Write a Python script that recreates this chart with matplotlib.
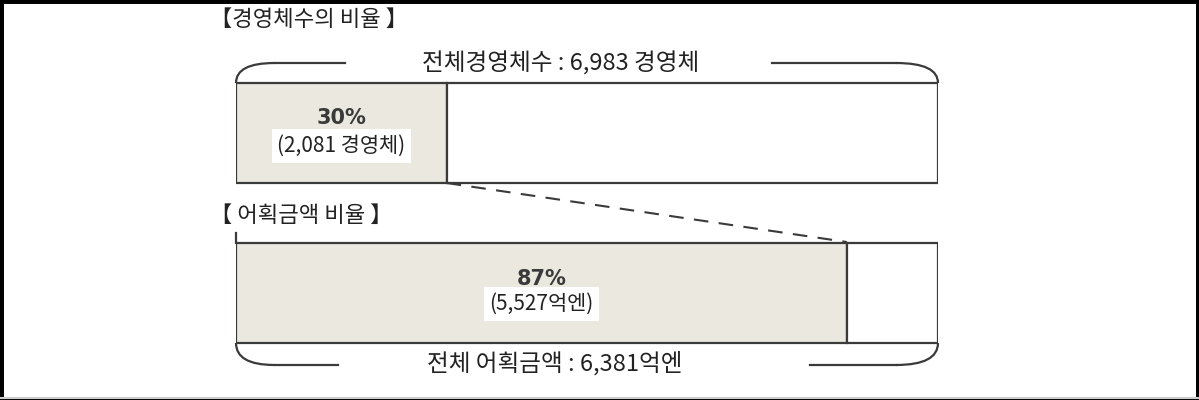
import matplotlib.pyplot as plt
from matplotlib.path import Path
from matplotlib.patches import PathPatch, Rectangle

plt.rcParams['font.family'] = ['Noto Sans CJK KR', 'DejaVu Sans']

# data
sections = ["【경영체수의 비율 】", "【 어획금액 비율 】"]
totals = ["전체경영체수 : 6,983 경영체", "전체 어획금액 : 6,381억엔"]
shares = [30, 87]
share_labels = ["30%", "87%"]
count_labels = ["(2,081 경영체)", "(5,527억엔)"]
bar_y = [133, 292.5]

ink = "#3a3a3a"
fill = "#ebe8df"

fig = plt.figure(figsize=(11.99, 4.0), dpi=100)
# axes spans the bar width: x in percent, y in pixel rows
ax = fig.add_axes([236 / 1199, 0, (938 - 236) / 1199, 1])
ax.set_xlim(0, 100)
ax.set_ylim(400, 0)
ax.axis("off")

for i in range(2):
    ax.barh(bar_y[i], shares[i], height=100, color=fill, edgecolor=ink, linewidth=1.6)
    ax.barh(bar_y[i], 100 - shares[i], left=shares[i], height=100, color="white",
            edgecolor=ink, linewidth=1.6)

# labels inside filled part
ax.text(shares[0] / 2, 118, share_labels[0], ha="center", va="center", fontsize=15,
        fontweight="bold", color=ink, family=["DejaVu Sans"])
ax.text(shares[0] / 2, 146, count_labels[0], ha="center", va="center", fontsize=15,
        color="#222222", bbox=dict(facecolor="white", edgecolor="none", pad=4))
ax.text(shares[1] / 2, 279, share_labels[1], ha="center", va="center", fontsize=15,
        fontweight="bold", color=ink, family=["DejaVu Sans"])
ax.text(shares[1] / 2, 304, count_labels[1], ha="center", va="center", fontsize=15,
        color="#222222", bbox=dict(facecolor="white", edgecolor="none", pad=4))

# section titles
ax.text(-3.7, 19, sections[0], ha="left", va="center", fontsize=16, color="#222222")
ax.text(-3.7, 215, sections[1], ha="left", va="center", fontsize=16, color="#222222")

# brackets with totals
def bracket(y_bar, y_line, x_text_l, x_text_r):
    for x0, x1 in [(0, 5.5), (100, 94.0)]:
        verts = [(x0, y_bar), (x0, y_line), (x1, y_line)]
        codes = [Path.MOVETO, Path.CURVE3, Path.CURVE3]
        ax.add_patch(PathPatch(Path(verts, codes), facecolor="none", edgecolor=ink,
                               linewidth=1.6, clip_on=False))
    ax.plot([5.5, x_text_l], [y_line, y_line], color=ink, lw=1.6, clip_on=False)
    ax.plot([x_text_r, 94.0], [y_line, y_line], color=ink, lw=1.6, clip_on=False)

bracket(83, 63, 15.5, 76.4)
ax.text(46.2, 64, totals[0], ha="center", va="center", fontsize=17, color="#222222")
bracket(343, 365, 14.5, 81.8)
ax.text(45.4, 364, totals[1], ha="center", va="center", fontsize=17, color="#222222")

# left edge of lower bar rises a little above it
ax.plot([0, 0], [233, 243], color=ink, lw=1.6, clip_on=False)

# dashed link from 30% to 87%
ax.plot([shares[0], shares[1]], [183, 242], color=ink, lw=1.5, linestyle=(0, (7, 5)))

# outer frame
fig.add_artist(Rectangle((0, 0), 1, 1, transform=fig.transFigure, fill=False,
                         edgecolor="black", linewidth=5))
fig.add_artist(plt.Line2D([0, 1], [0.004, 0.004], transform=fig.transFigure,
                          color="#cccccc", lw=1.5))

fig.savefig("out.png", dpi=100)
